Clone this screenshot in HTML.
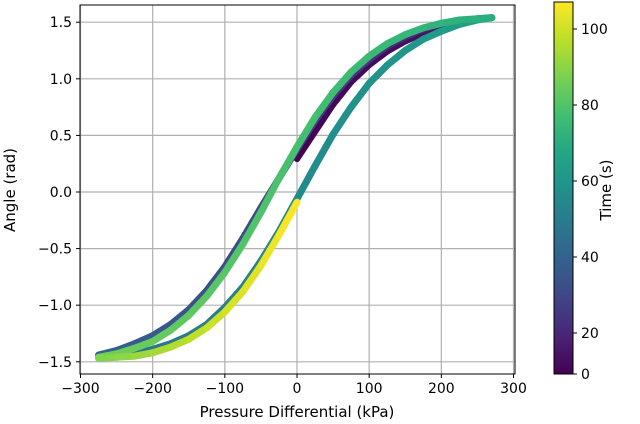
<!DOCTYPE html>
<html><head><meta charset="utf-8"><style>
body{margin:0;background:#fff}
svg{display:block;font-family:"DejaVu Sans","Liberation Sans",sans-serif}
</style></head><body>
<svg id="chart" width="640" height="424" viewBox="0 0 640 424">
<g id="grid"></g>
<g id="series"></g>
<rect x="80" y="5" width="435" height="369" fill="none" stroke="#000" stroke-width="1"/>
<g id="axes"></g>
<text x="297" y="417" font-size="15" text-anchor="middle">Pressure Differential (kPa)</text>
<text transform="translate(15,190) rotate(-90)" font-size="15" text-anchor="middle">Angle (rad)</text>
<defs><linearGradient id="vir" x1="0" y1="1" x2="0" y2="0"></linearGradient></defs>
<rect x="554" y="2" width="19" height="372" fill="url(#vir)" stroke="#000" stroke-width="1"/>
<g id="cbaxis"></g>
<text transform="translate(611,190) rotate(-90)" font-size="15" text-anchor="middle">Time (s)</text>
</svg>
<script>
const xTicks=[-300,-200,-100,0,100,200,300];
const yTicks=[-1.5,-1.0,-0.5,0.0,0.5,1.0,1.5];
const cbTicks=[0,20,40,60,80,100];
const pressure=[-275,-250,-225,-200,-175,-150,-125,-100,-75,-50,-25,0,25,50,75,100,125,150,175,200,225,250,270];
const angleDecreasingA=[-1.44,-1.40,-1.34,-1.27,-1.17,-1.04,-0.87,-0.66,-0.41,-0.14,0.12,0.38,0.63,0.85,1.03,1.17,1.29,1.37,1.44,1.48,1.51,1.53,1.54];
const angleDecreasingB=[-1.46,-1.43,-1.38,-1.32,-1.22,-1.09,-0.92,-0.71,-0.46,-0.18,0.12,0.40,0.66,0.88,1.06,1.20,1.31,1.39,1.45,1.49,1.52,1.53,1.54];
const angleIncreasingA=[-1.46,-1.45,-1.43,-1.39,-1.34,-1.27,-1.17,-1.02,-0.84,-0.61,-0.35,-0.06,0.23,0.51,0.75,0.96,1.12,1.25,1.35,1.42,1.48,1.52,1.54];
const angleIncreasingB=[-1.47,-1.46,-1.45,-1.42,-1.37,-1.30,-1.20,-1.06,-0.88,-0.65,-0.38,-0.09];
const pressureInitial=[0,25,50,75,100,125,150,175,200,225,250,270];
const angleInitial=[0.29,0.53,0.77,0.97,1.12,1.24,1.33,1.40,1.45,1.49,1.52,1.54];
const segTimes=[[0,12],[15,40],[45,65],[70,86],[88,107]];
const NS='http://www.w3.org/2000/svg';
const X=p=>297+p*0.7217;
const Y=a=>192-a*113.2;
const CB=t=>t<=20?374-t*2.05:333-(t-20)*3.8;
const vstops=['#440154','#482475','#414487','#355f8d','#2a788e','#21918c','#22a884','#44bf70','#7ad151','#bddf26','#fde725'];
function hex(h){return [1,3,5].map(i=>parseInt(h.substr(i,2),16));}
function viridis(f){f=Math.max(0,Math.min(1,f));const s=f*10,i=Math.min(9,Math.floor(s)),r=s-i;const a=hex(vstops[i]),b=hex(vstops[i+1]);return 'rgb('+a.map((v,k)=>Math.round(v+(b[k]-v)*r)).join(',')+')';}
const colorT=t=>viridis((374-CB(t))/372);
function mk(tag,attrs,parent){const e=document.createElementNS(NS,tag);for(const k in attrs)e.setAttribute(k,attrs[k]);parent.appendChild(e);return e;}
const grid=document.getElementById('grid'),axes=document.getElementById('axes');
xTicks.forEach(v=>{const x=X(v);
 const g=mk('line',{x1:x,x2:x,y1:5,y2:374,stroke:'#b0b0b0','stroke-width':1.2},grid);
 
 
 const t=mk('line',{x1:x,x2:x,y1:374,y2:378,stroke:'#000'},axes);
 
 
 const l=mk('text',{x:x,y:393,'font-size':14,'text-anchor':'middle'},axes);
 l.textContent=(v<0?'\u2212'+(-v):v);
 
 });
yTicks.forEach(v=>{const y=Y(v);
 const g=mk('line',{x1:80,x2:515,y1:y,y2:y,stroke:'#b0b0b0','stroke-width':1.2},grid);
 
 
 const t=mk('line',{x1:76,x2:80,y1:y,y2:y,stroke:'#000'},axes);
 
 
 const l=mk('text',{x:72,y:y+5,'font-size':14,'text-anchor':'end'},axes);
 l.textContent=(v<0?'\u2212':'')+Math.abs(v).toFixed(1);
 
 });
const cb=document.getElementById('cbaxis');
cbTicks.forEach(v=>{const y=CB(v);
 const t=mk('line',{x1:573,x2:577,y1:y,y2:y,stroke:'#000'},cb);
 
 
 const l=mk('text',{x:581,y:y+5,'font-size':14},cb);
 l.textContent=v;
 
 });
const grad=document.getElementById('vir');
vstops.forEach((c,i)=>mk('stop',{offset:(i*10)+'%','stop-color':c},grad));
const last=pressure.indexOf(0);
const segs=[
 [pressureInitial,angleInitial,false,segTimes[0],6],
 [pressure,angleDecreasingA,true,segTimes[1],7],
 [pressure,angleIncreasingA,false,segTimes[2],7],
 [pressure,angleDecreasingB,true,segTimes[3],7],
 [pressure.slice(0,last+1),angleIncreasingB,false,segTimes[4],7]];
const ser=document.getElementById('series');
segs.forEach((s,si)=>{
 let P=s[0].slice(),A=s[1].slice();if(s[2]){P.reverse();A.reverse();}
 const n=P.length,[t0,t1]=s[3];
 const g=mk('g',{},ser);
 
 
 for(let i=0;i<n-1;i++){
  const t=t0+(t1-t0)*(i+0.5)/(n-1);
  const ln=mk('line',{x1:X(P[i]),y1:Y(A[i]),x2:X(P[i+1]),y2:Y(A[i+1]),stroke:colorT(t),'stroke-width':s[4],'stroke-linecap':'round'},g);
  
  
 }
});
</script>
</body></html>
